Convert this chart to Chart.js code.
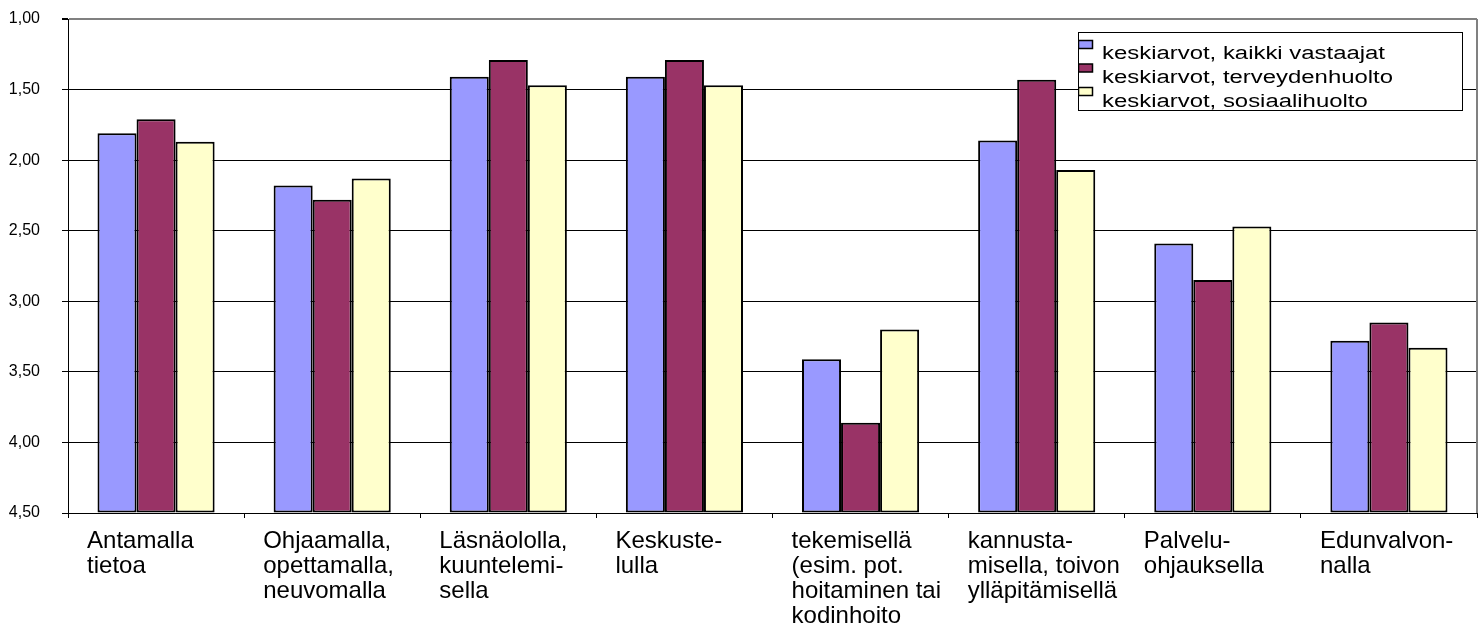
<!DOCTYPE html>
<html>
<head>
<meta charset="utf-8">
<script src="https://cdn.jsdelivr.net/npm/chart.js@4.4.0/dist/chart.umd.min.js"></script>
<style>
  html, body { margin: 0; background: #fff; }
  #wrap { width: 1483px; height: 624px; }
</style>
</head>
<body>
<div id="wrap"><canvas id="chart"></canvas></div>
<script>
// data (scale runs 1,00 at top to 4,50 at bottom)
const categories = [
  ['Antamalla', 'tietoa'],
  ['Ohjaamalla,', 'opettamalla,', 'neuvomalla'],
  ['Läsnäololla,', 'kuuntelemi-', 'sella'],
  ['Keskuste-', 'lulla'],
  ['tekemisellä', '(esim. pot.', 'hoitaminen tai', 'kodinhoito'],
  ['kannusta-', 'misella, toivon', 'ylläpitämisellä'],
  ['Palvelu-', 'ohjauksella'],
  ['Edunvalvon-', 'nalla']
];
const kaikkiVastaajat = [1.81, 2.18, 1.41, 1.41, 3.41, 1.86, 2.59, 3.28];
const terveydenhuolto = [1.71, 2.28, 1.29, 1.29, 3.86, 1.43, 2.85, 3.15];
const sosiaalihuolto = [1.87, 2.13, 1.47, 1.47, 3.20, 2.07, 2.47, 3.33];
const seriesNames = ['keskiarvot, kaikki vastaajat', 'keskiarvot, terveydenhuolto', 'keskiarvot, sosiaalihuolto'];
const yMin = 1.0, yMax = 4.5, yStep = 0.5;

const FONT = '"Liberation Sans", Arial, sans-serif';

// legend box drawn inside the plot, top right
const legendBox = {
  id: 'legendBox',
  afterDraw(chart) {
    const {ctx, chartArea} = chart;
    const x = chartArea.right - 399, y = chartArea.top + 13, w = 384, h = 78;
    ctx.save();
    // gray right border of plot area
    ctx.strokeStyle = '#808080';
    ctx.lineWidth = 2;
    ctx.beginPath();
    ctx.moveTo(chartArea.right, chartArea.top);
    ctx.lineTo(chartArea.right, chartArea.bottom);
    ctx.stroke();

    ctx.fillStyle = '#fff';
    ctx.fillRect(x, y, w, h);
    ctx.strokeStyle = '#000';
    ctx.lineWidth = 1;
    ctx.strokeRect(x + 0.5, y + 0.5, w, h);
    ctx.beginPath();
    ctx.rect(x, y, w + 1, h + 1);
    ctx.clip();
    ctx.font = '18px ' + FONT;
    ctx.textBaseline = 'alphabetic';
    // the legend text in the original is drawn wide: stretch the longest line to ~283px
    const sx = 283 / ctx.measureText(chart.data.datasets[0].label).width;
    chart.data.datasets.forEach((ds, i) => {
      const sy = y + 8 + i * 23.5;
      ctx.fillStyle = ds.backgroundColor;
      ctx.fillRect(x + 0.5, sy + 0.5, 14, 8);
      ctx.strokeStyle = '#000';
      ctx.lineWidth = 1.5;
      ctx.strokeRect(x + 0.5, sy + 0.5, 14, 8);
      ctx.save();
      ctx.translate(x + 24, y + 27 + i * 24);
      ctx.scale(sx, 1);
      ctx.fillStyle = '#000';
      ctx.fillText(ds.label, 0, 0);
      ctx.restore();
    });
    ctx.restore();
  }
};

const chart = document.querySelector('#chart').getContext('2d');

new Chart(chart, {
  type: 'bar',
  data: {
    labels: categories,
    datasets: [
      { label: seriesNames[0], data: kaikkiVastaajat, backgroundColor: '#9999FF' },
      { label: seriesNames[1], data: terveydenhuolto, backgroundColor: '#993366' },
      { label: seriesNames[2], data: sosiaalihuolto, backgroundColor: '#FFFFCC' }
    ].map(ds => Object.assign(ds, {
      base: yMax,
      borderColor: '#000',
      borderWidth: 2,
      borderSkipped: false,
      categoryPercentage: 0.665,
      barPercentage: 1.0
    }))
  },
  options: {
    responsive: true,
    maintainAspectRatio: false,
    animation: false,
    layout: { padding: { top: 19, right: 6, left: 0, bottom: 0 } },
    plugins: {
      legend: { display: false },
      tooltip: { enabled: false }
    },
    scales: {
      x: {
        afterFit: s => {
          s.height = 111;
          s.paddingLeft = 0;
          s.paddingRight = 0;
        },
        grid: { display: true, drawOnChartArea: false, tickLength: 5, color: '#000' },
        border: { color: '#000', width: 1 },
        ticks: {
          color: '#000',
          font: { family: FONT, size: 24, lineHeight: '25px' },
          align: 'start',
          labelOffset: -69,
          padding: 11,
          maxRotation: 0,
          autoSkip: false
        }
      },
      y: {
        reverse: true,
        min: yMin,
        max: yMax,
        afterFit: s => {
          s.width = 68;
          s.paddingTop = 0;
          s.paddingBottom = 0;
        },
        grid: {
          color: c => (c.tick && c.tick.value === yMin) ? '#808080' : '#000',
          lineWidth: c => (c.tick && c.tick.value === yMin) ? 2 : 1,
          tickColor: '#000',
          tickLength: 6
        },
        border: { color: '#000', width: 1 },
        ticks: {
          stepSize: yStep,
          color: '#000',
          padding: 22,
          font: { family: FONT, size: 16 },
          callback: v => v.toFixed(2).replace('.', ',')
        }
      }
    }
  },
  plugins: [legendBox]
});
</script>
</body>
</html>
